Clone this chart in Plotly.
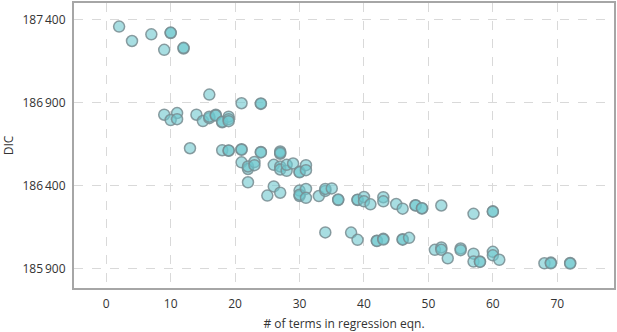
import plotly.graph_objects as go

# number of terms in regression equation
terms = [
    2, 4, 7, 10, 10, 9, 12, 12,
    16, 21, 24, 24,
    9, 11, 10, 11, 14, 15, 16, 16, 17, 17, 18, 18, 19, 19, 19,
    13, 18, 19, 19, 21, 21, 24, 24, 27, 27, 27,
    21, 22, 22, 23, 23, 26, 27, 27, 28, 28, 29, 30, 30, 31, 31,
    22, 25, 26, 27, 30, 30, 30, 31, 31, 33, 34, 34, 35, 36, 36, 39, 39, 40, 40, 41,
    43, 43, 45, 46, 48, 48, 49, 49, 52, 57, 60, 60,
    34, 38, 39, 42, 42, 43, 43, 46, 46, 47, 51, 52, 52, 53, 55, 55, 57, 57, 58, 58,
    60, 60, 61, 68, 69, 69, 72, 72,
]
# DIC values
dic = [
    187358, 187271, 187311, 187319, 187322, 187218, 187226, 187230,
    186948, 186896, 186892, 186895,
    186827, 186837, 186795, 186800, 186827, 186789, 186806, 186815, 186827, 186822,
    186781, 186785, 186815, 186800, 186788,
    186625, 186613, 186610, 186612, 186619, 186616, 186603, 186600, 186606, 186592, 186598,
    186540, 186500, 186515, 186542, 186523, 186525, 186515, 186497, 186489, 186525,
    186533, 186483, 186480, 186523, 186493,
    186420, 186340, 186395, 186357, 186370, 186337, 186345, 186380, 186326, 186337,
    186368, 186380, 186383, 186313, 186316, 186313, 186315, 186331, 186305, 186287,
    186330, 186305, 186289, 186261, 186282, 186280, 186262, 186264, 186280, 186230,
    186245, 186243,
    186118, 186117, 186073, 186068, 186066, 186079, 186075, 186077, 186074, 186085,
    186013, 186027, 186013, 185962, 186021, 186011, 185990, 185942, 185942, 185940,
    186001, 185980, 185953, 185932, 185936, 185932, 185934, 185930,
]

x_ticks = [0, 10, 20, 30, 40, 50, 60, 70]
y_ticks = [185900, 186400, 186900, 187400]
y_tick_labels = ["185\u2009900", "186\u2009400", "186\u2009900", "187\u2009400"]

fig = go.Figure(
    go.Scatter(
        x=terms,
        y=dic,
        mode="markers",
        marker=dict(
            size=11,
            color="rgba(110,200,207,0.6)",
            line=dict(color="rgba(120,140,145,0.85)", width=1.5),
        ),
        showlegend=False,
    )
)

font = dict(family="Open Sans, sans-serif", size=12, color="#333333")

fig.update_layout(
    width=617,
    height=332,
    margin=dict(l=74, r=2, t=1, b=43),
    plot_bgcolor="white",
    paper_bgcolor="white",
    font=font,
)
fig.update_xaxes(
    range=[-5, 78.8],
    tickvals=x_ticks,
    showgrid=True,
    gridcolor="#d9d9d9",
    griddash="dash",
    gridwidth=1,
    zeroline=False,
    showline=True,
    linecolor="#a6a6a6",
    linewidth=2,
    mirror=True,
    ticks="outside",
    ticklen=4,
    tickcolor="rgba(0,0,0,0)",
    title=dict(text="# of terms in regression eqn.", standoff=10, font=font),
)
fig.update_yaxes(
    range=[185783, 187500],
    tickvals=y_ticks,
    ticktext=y_tick_labels,
    showgrid=True,
    gridcolor="#d9d9d9",
    griddash="dash",
    gridwidth=1,
    zeroline=False,
    showline=True,
    linecolor="#a6a6a6",
    linewidth=2,
    mirror=True,
    ticks="outside",
    ticklen=4,
    tickcolor="rgba(0,0,0,0)",
    title=dict(text="DIC", standoff=8, font=font),
)

fig.write_html(
    "out.html",
    config={"displayModeBar": False},
    post_script="document.body.style.margin='0';document.body.style.padding='0';",
)
